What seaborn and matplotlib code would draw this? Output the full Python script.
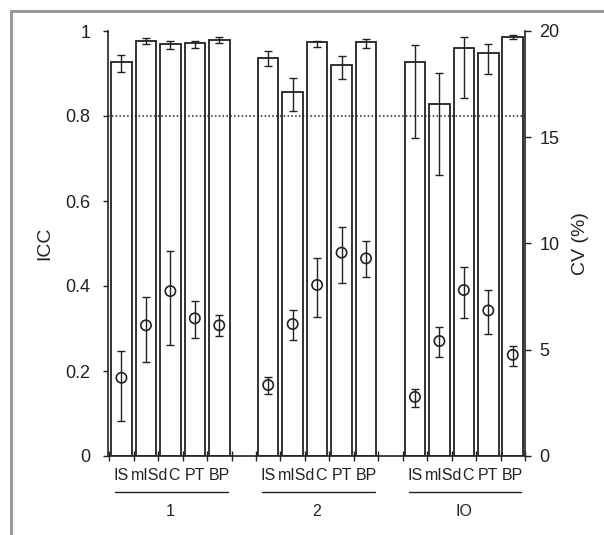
import numpy as np
import pandas as pd
import seaborn as sns
from matplotlib import pyplot as plt
from matplotlib.lines import Line2D
from matplotlib.transforms import ScaledTranslation, blended_transform_factory

groups = ["1", "2", "IO"]
measures = ["IS", "mISd", "C", "PT", "BP"]

# ICC (left axis) with asymmetric confidence limits
icc = [0.926, 0.977, 0.969, 0.971, 0.980,
       0.936, 0.856, 0.973, 0.920, 0.975,
       0.928, 0.829, 0.960, 0.948, 0.986]
icc_lo = [0.904, 0.970, 0.957, 0.959, 0.971,
          0.918, 0.812, 0.962, 0.888, 0.959,
          0.748, 0.661, 0.843, 0.899, 0.981]
icc_hi = [0.944, 0.983, 0.977, 0.977, 0.987,
          0.952, 0.889, 0.977, 0.941, 0.982,
          0.968, 0.901, 0.985, 0.969, 0.990]

# CV in % (right axis)
cv = [3.68, 6.15, 7.76, 6.48, 6.15,
      3.34, 6.21, 8.05, 9.57, 9.30,
      2.78, 5.41, 7.81, 6.85, 4.76]
cv_lo = [1.66, 4.41, 5.22, 5.57, 5.65,
         2.90, 5.46, 6.53, 8.16, 8.44,
         2.31, 4.67, 6.48, 5.73, 4.23]
cv_hi = [4.96, 7.50, 9.66, 7.29, 6.65,
         3.73, 6.87, 9.33, 10.79, 10.12,
         3.17, 6.06, 8.90, 7.82, 5.19]

icc_ticks = [0, 0.2, 0.4, 0.6, 0.8, 1]
cv_ticks = [0, 5, 10, 15, 20]
icc_threshold = 0.8

sns.set_theme(style="ticks")
plt.rcParams["font.family"] = ["Liberation Sans", "DejaVu Sans"]
ink = "#222222"

n = len(measures)
df = pd.DataFrame({
    "group": np.repeat(groups, n),
    "measure": measures * len(groups),
    "icc": icc, "icc_lo": icc_lo, "icc_hi": icc_hi,
    "cv": cv, "cv_lo": cv_lo, "cv_hi": cv_hi,
})
# one empty slot between groups
df["pos"] = [g * (n + 1) + j for g in range(len(groups)) for j in range(n)]

fig = plt.figure(figsize=(6.04, 5.35), dpi=100)
ax = fig.add_axes([108 / 604, 1 - 456 / 535, 417 / 604, 425 / 535])

sns.barplot(data=df, x="pos", y="icc", native_scale=True, width=0.84,
            color="white", saturation=1, edgecolor=ink, linewidth=1.3,
            errorbar=None, ax=ax, zorder=2)
ax.errorbar(df["pos"], df["icc"],
            yerr=[df["icc"] - df["icc_lo"], df["icc_hi"] - df["icc"]],
            fmt="none", ecolor=ink, elinewidth=1.0, capsize=3.2, capthick=1.0,
            zorder=3)
ax.axhline(icc_threshold, ls=(0, (1, 1.5)), color=ink, lw=1.1, zorder=4)

ax.set_xlim(-0.55, df["pos"].max() + 0.5)
ax.set_ylim(0, 1)
ax.set_yticks(icc_ticks)
ax.set_yticklabels([f"{v:g}" for v in icc_ticks])
# ticks sit on the slot boundaries, labels are drawn separately below
ax.set_xticks(np.arange(-0.5, df["pos"].max() + 1, 1))
ax.set_xticklabels([])
ax.tick_params(axis="x", direction="inout", length=7, width=1.0, color=ink)
ax.tick_params(axis="y", direction="out", length=3.6, width=1.0, pad=9,
               labelsize=13, color=ink, labelcolor=ink)
ax.set_xlabel("")
ax.set_ylabel("ICC", fontsize=14, color=ink, labelpad=9)
for side in ["left", "bottom"]:
    ax.spines[side].set_color(ink)
    ax.spines[side].set_linewidth(1.2)
ax.spines["top"].set_visible(False)
ax.spines["right"].set_visible(False)

ax2 = ax.twinx()
ax2.errorbar(df["pos"], df["cv"],
             yerr=[df["cv"] - df["cv_lo"], df["cv_hi"] - df["cv"]],
             fmt="none", ecolor=ink, elinewidth=1.0, capsize=3.2, capthick=1.0,
             zorder=3)
sns.scatterplot(data=df, x="pos", y="cv", marker="o", s=55,
                facecolor="none", edgecolor=ink, linewidth=1.2, ax=ax2,
                zorder=4)
ax2.set_ylim(0, 20)
ax2.set_yticks(cv_ticks)
ax2.tick_params(axis="y", direction="out", length=4, width=1.0, pad=6.5,
                labelsize=13, color=ink, labelcolor=ink)
ax2.set_ylabel("CV (%)", fontsize=14, color=ink, labelpad=9)
ax2.set_xlabel("")
for side in ["left", "top", "bottom"]:
    ax2.spines[side].set_visible(False)
ax2.spines["right"].set_color(ink)
ax2.spines["right"].set_linewidth(1.2)

# measure labels; the long "mISd" pushes itself and "C" a little right
trans = blended_transform_factory(ax.transData, ax.transAxes)
nudge = ScaledTranslation(4 / 100, 0, fig.dpi_scale_trans)
for p, m in zip(df["pos"], df["measure"]):
    t = trans + nudge if m in ("mISd", "C") else trans
    ax.text(p, -0.047, m, transform=t, ha="center", va="center",
            fontsize=11.5, color=ink)

# group brackets below the measure labels
for g, name in enumerate(groups):
    start = g * (n + 1)
    ax.add_line(Line2D([start - 0.25, start + n - 0.65], [-0.085, -0.085],
                       transform=trans, color=ink, lw=1.0, clip_on=False))
    ax.text(start + (n - 1) / 2, -0.13, name, transform=trans, ha="center",
            va="center", fontsize=11.5, color=ink)

# grey frame of the original figure panel
fig.add_artist(Line2D([11 / 604, 1], [1 - 11 / 535] * 2,
                      transform=fig.transFigure, color="#9a9a9a", lw=2.2))
fig.add_artist(Line2D([11 / 604] * 2, [0, 1 - 11 / 535],
                      transform=fig.transFigure, color="#9a9a9a", lw=2.2))

fig.savefig("out.png", dpi=100)
